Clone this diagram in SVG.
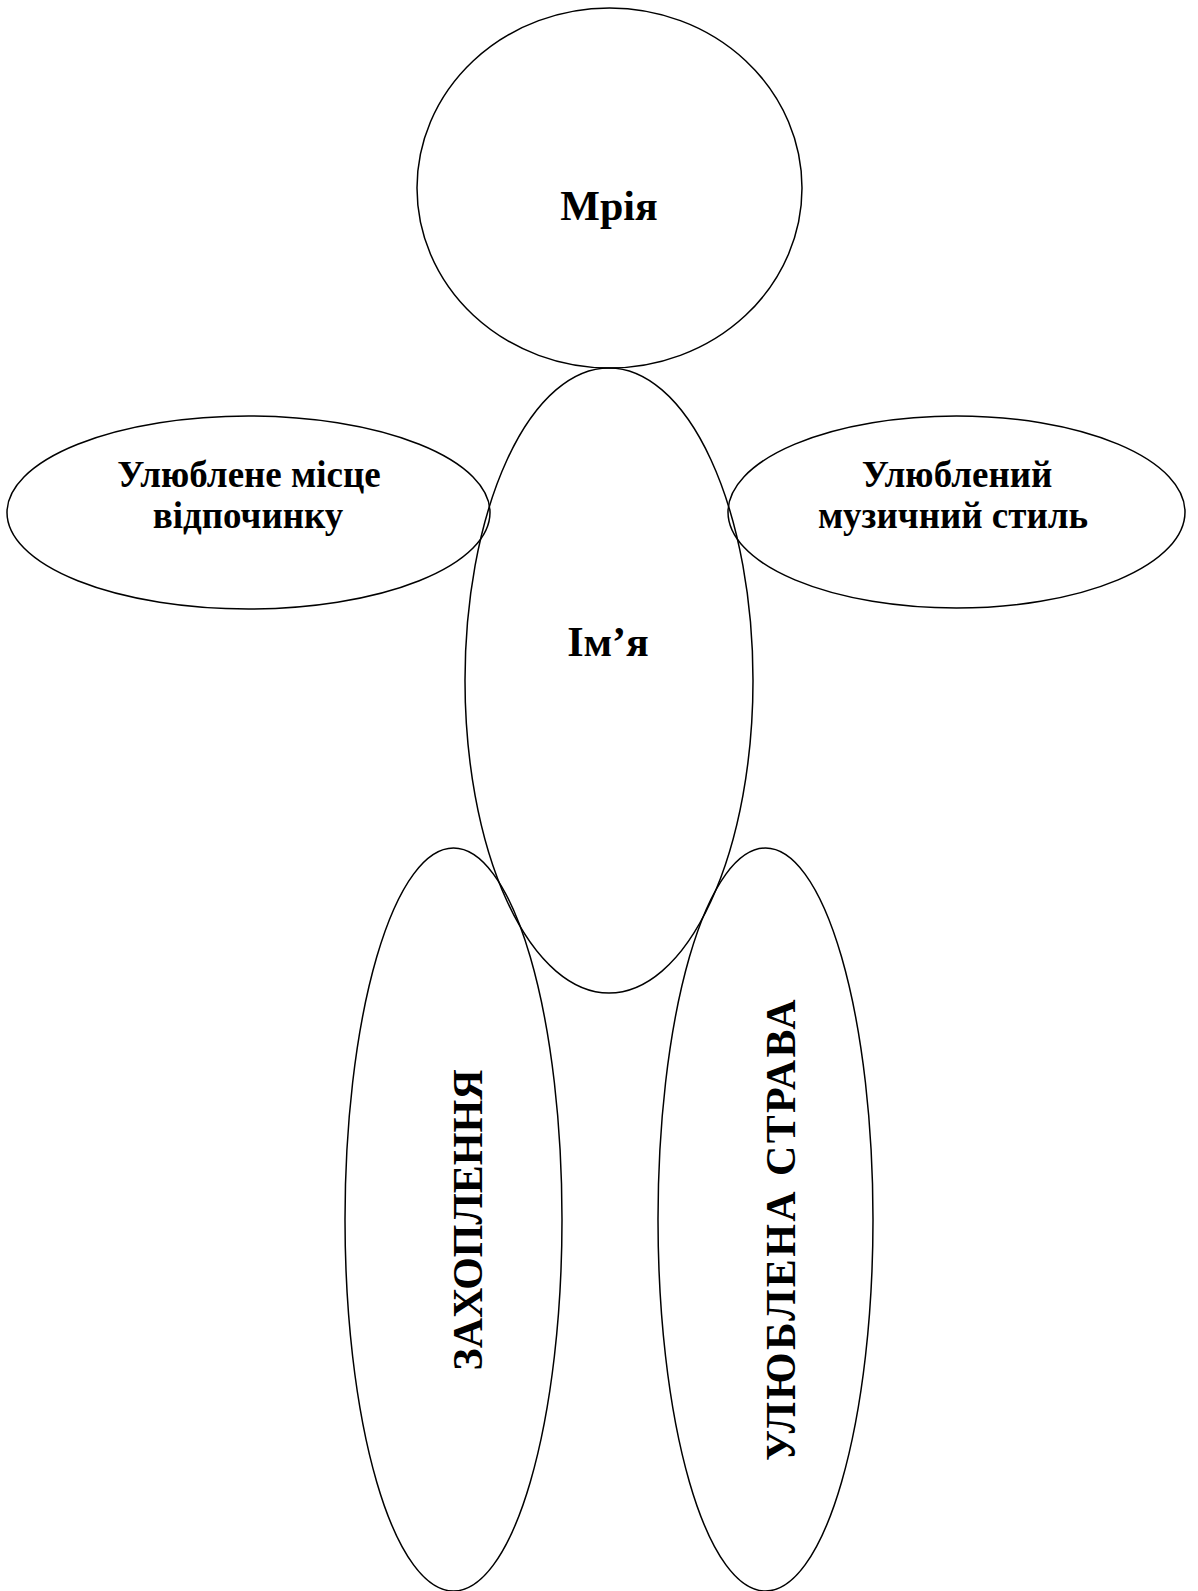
<svg xmlns="http://www.w3.org/2000/svg" width="1198" height="1591" viewBox="0 0 1198 1591">
<style>
.shape{fill:none;stroke:#000;stroke-width:1.5}
.t{font-family:"Liberation Serif","Times New Roman",serif;font-weight:bold;fill:#000;text-anchor:middle}
.big{font-size:42px}
.mid{font-size:37px}
</style>
<rect width="1198" height="1591" fill="#fff"/>
<g id="connectors"></g>
<g id="node-mriya">
<ellipse class="shape" cx="609.5" cy="188" rx="192.5" ry="180"/>
<text class="t big" x="609" y="220">Мрія</text>
</g>
<g id="node-imya">
<ellipse class="shape" cx="609" cy="680.5" rx="144" ry="312.5"/>
<text class="t big" x="608" y="656">Ім’я</text>
</g>
<g id="node-mistse">
<ellipse class="shape" cx="248.5" cy="512.5" rx="241.5" ry="96.5"/>
<text class="t mid" x="249" y="487">Улюблене місце</text>
<text class="t mid" x="248" y="528">відпочинку</text>
</g>
<g id="node-muzyka">
<ellipse class="shape" cx="956.5" cy="512" rx="228.5" ry="96"/>
<text class="t mid" x="957" y="487">Улюблений</text>
<text class="t mid" x="953" y="528">музичний стиль</text>
</g>
<g id="node-zakhoplennya">
<ellipse class="shape" cx="453.5" cy="1219.5" rx="108.5" ry="371.5"/>
<text class="t big" transform="translate(482 1220) rotate(-90)" x="0" y="0">ЗАХОПЛЕННЯ</text>
</g>
<g id="node-strava">
<ellipse class="shape" cx="765.5" cy="1219.5" rx="107.5" ry="371.5"/>
<text class="t big" transform="translate(795 1229) rotate(-90)" x="0" y="0" letter-spacing="2.4">УЛЮБЛЕНА СТРАВА</text>
</g>
</svg>
